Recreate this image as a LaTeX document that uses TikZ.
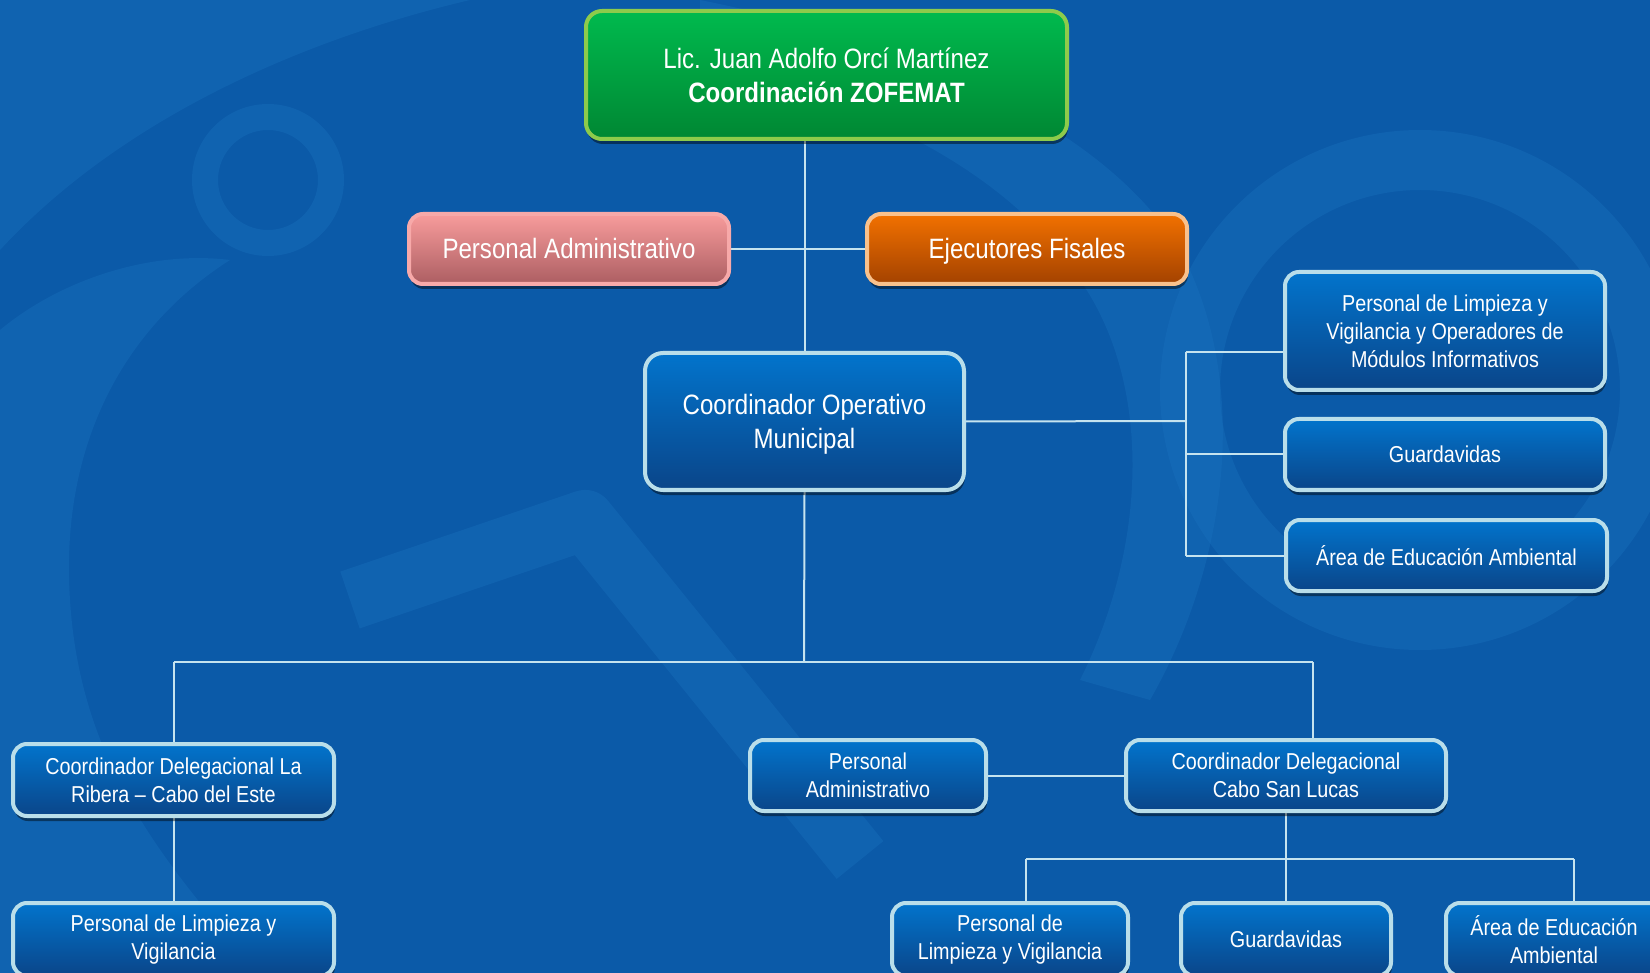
\documentclass[tikz,border=0pt]{standalone}
\usepackage{fontspec}
\setmainfont[FakeStretch=0.86]{Liberation Sans}
\usetikzlibrary{shadows}
\definecolor{bg}{HTML}{0B5AA8}
\definecolor{bglight}{HTML}{1A72BE}
\definecolor{bluetop}{HTML}{0274CC}
\definecolor{bluebot}{HTML}{0A4589}
\definecolor{blueborder}{HTML}{B9DEEA}
\definecolor{greentop}{HTML}{00BA4E}
\definecolor{greenbot}{HTML}{008733}
\definecolor{greenborder}{HTML}{8DCB4B}
\definecolor{pinktop}{HTML}{F89C9C}
\definecolor{pinkbot}{HTML}{AC5E62}
\definecolor{pinkborder}{HTML}{F7A9A9}
\definecolor{orangetop}{HTML}{F27100}
\definecolor{orangebot}{HTML}{A34200}
\definecolor{orangeborder}{HTML}{F9C18C}
\definecolor{connc}{HTML}{C5E3EF}
\pgfdeclarelayer{back}
\pgfsetlayers{back,main}
\tikzset{
  orgbox/.style={rounded corners=14pt, line width=4pt, draw=blueborder,
    top color=bluetop, bottom color=bluebot, text=white, align=center,
    inner sep=0pt, font=\fontsize{23}{28}\selectfont,
    drop shadow={shadow xshift=1pt, shadow yshift=-5pt, opacity=0.45, fill=black}},
  bigbox/.style={orgbox, font=\fontsize{28}{34}\selectfont},
  greenbox/.style={bigbox, draw=greenborder, top color=greentop, bottom color=greenbot, rounded corners=16pt},
  pinkbox/.style={bigbox, draw=pinkborder, top color=pinktop, bottom color=pinkbot},
  orangebox/.style={bigbox, draw=orangeborder, top color=orangetop, bottom color=orangebot},
  oneline/.style={text height=20pt, text depth=0pt},
  conn/.style={draw=connc, line width=2pt},
  deco/.style={bglight, opacity=0.38}
}
\begin{document}
\begin{tikzpicture}[x=1pt,y=-1pt]
\useasboundingbox (0,0) rectangle (1650,973);
% background and decoration
\begin{pgfonlayer}{back}
\begin{scope}
\clip (0,0) rectangle (1650,973);
\fill[bg] (0,0) rectangle (1650,973);
\fill[deco, even odd rule] (268,180) circle[radius=76] (268,180) circle[radius=50];
\fill[deco] (0,250) .. controls (120,120) and (300,40) .. (470,0) -- (0,0) -- cycle;
\fill[deco] (0,330) .. controls (60,280) and (150,250) .. (230,260) .. controls (120,330) and (60,450) .. (70,600) .. controls (80,760) and (160,860) .. (260,973) -- (0,973) -- cycle;
\fill[deco, even odd rule] (1420,390) circle[radius=260] (1420,390) circle[radius=200];
\draw[bglight, opacity=0.38, line width=60pt, line join=round] (350,600) -- (585,520) -- (860,860);
\fill[deco] (700,0) .. controls (900,40) and (1100,120) .. (1180,250) .. controls (1250,380) and (1230,560) .. (1150,700) -- (1080,680) .. controls (1150,540) and (1150,380) .. (1080,280) .. controls (1000,160) and (850,100) .. (700,60) -- cycle;
\end{scope}
\end{pgfonlayer}

\begin{scope}
\clip (0,0) rectangle (1650,973);
% nodes
\node[greenbox, minimum width=481pt, minimum height=128pt] (top) at (826.5,75)
  {Lic. Juan Adolfo Orcí Martínez\\\textbf{Coordinación ZOFEMAT}};
\node[pinkbox, oneline, minimum width=320pt, minimum height=70pt] (pa) at (569,249) {Personal Administrativo};
\node[orangebox, oneline, minimum width=320pt, minimum height=70pt] (ef) at (1027,249) {Ejecutores Fisales};
\node[bigbox, text depth=0pt, minimum width=319pt, minimum height=137pt, rounded corners=18pt] (com) at (804.5,421.5)
  {Coordinador Operativo\\Municipal};
\node[orgbox, minimum width=320pt, minimum height=118pt] (r1) at (1445,331)
  {Personal de Limpieza y\\Vigilancia y Operadores de\\Módulos Informativos};
\node[orgbox, minimum width=320pt, minimum height=71pt] (r2) at (1445,454.5) {Guardavidas};
\node[orgbox, minimum width=321pt, minimum height=71pt] (r3) at (1446.5,555.5) {Área de Educación Ambiental};
\node[orgbox, minimum width=321pt, minimum height=72pt] (lr) at (173.5,780)
  {Coordinador Delegacional La\\Ribera – Cabo del Este};
\node[orgbox, minimum width=321pt, minimum height=73pt] (lplv) at (173.5,939.5)
  {Personal de Limpieza y\\Vigilancia};
\node[orgbox, minimum width=236pt, minimum height=71pt] (bpa) at (868,775.5)
  {Personal\\Administrativo};
\node[orgbox, minimum width=320pt, minimum height=71pt] (csl) at (1286,775.5)
  {Coordinador Delegacional\\Cabo San Lucas};
\node[orgbox, minimum width=236pt, minimum height=73pt] (b1) at (1010,939.5)
  {Personal de\\Limpieza y Vigilancia};
\node[orgbox, minimum width=210pt, minimum height=73pt] (b2) at (1286,939.5) {Guardavidas};
\node[orgbox, minimum width=216pt, minimum height=73pt] (b3) at (1554,939.5)
  {Área de Educación\\Ambiental};
\end{scope}

% junction coordinates
\coordinate (busR) at (1186,421);
\coordinate (r1in) at (1285,352);
\coordinate (busB) at (804,662);
\coordinate (busBL) at (174,662);
\coordinate (busBR) at (1313,662);
\coordinate (cslin) at (1313,740);
\coordinate (busC) at (1286,859);
\coordinate (busCL) at (1026,859);
\coordinate (busCR) at (1574,859);
\coordinate (b1in) at (1026,903);
\coordinate (b3in) at (1574,903);

% connectors
\begin{pgfonlayer}{back}
\draw[conn] (top.south -| com.north) -- (com.north);
\draw[conn] (pa.east) -- (ef.west);
\draw[conn] (com.east) -- (busR);
\draw[conn] (r1in -| busR) -- (r3.west -| busR);
\draw[conn] (r1in -| busR) -- (r1in);
\draw[conn] (r2.west -| busR) -- (r2.west);
\draw[conn] (r3.west -| busR) -- (r3.west);
\draw[conn] (com.south) -- (busB);
\draw[conn] (busBL) -- (busBR);
\draw[conn] (busBL) -- (lr.north -| busBL);
\draw[conn] (busBR) -- (cslin);
\draw[conn] (lr.south) -- (lplv.north);
\draw[conn] (bpa.east) -- (csl.west);
\draw[conn] (csl.south) -- (busC);
\draw[conn] (busCL) -- (busCR);
\draw[conn] (busCL) -- (b1in);
\draw[conn] (busC) -- (b2.north);
\draw[conn] (busCR) -- (b3in);
\end{pgfonlayer}
\end{tikzpicture}
\end{document}
